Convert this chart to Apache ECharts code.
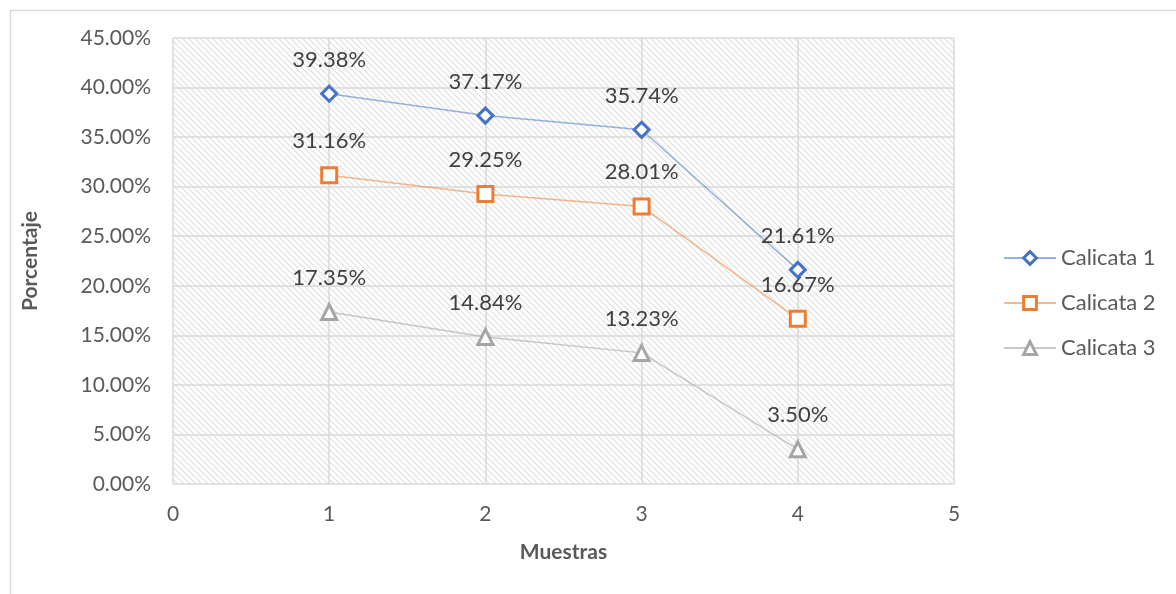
<!DOCTYPE html>
<html>
<head>
<meta charset="utf-8">
<script src="https://cdn.jsdelivr.net/npm/echarts@6/dist/echarts.min.js"></script>
<style>
html,body{margin:0;padding:0;background:#fff;}
#c{width:1176px;height:594px;}
</style>
</head>
<body>
<div id="c"></div>
<script>
const muestras = [1, 2, 3, 4];
const calicata1 = [0.3938, 0.3717, 0.3574, 0.2161];
const calicata2 = [0.3116, 0.2925, 0.2801, 0.1667];
const calicata3 = [0.1735, 0.1484, 0.1323, 0.0350];
const seriesNames = ['Calicata 1', 'Calicata 2', 'Calicata 3'];

const FONT = 'Lato, "Open Sans", sans-serif';

// hatch pattern
const tile = document.createElement('canvas');
tile.width = 6; tile.height = 6;
const tc = tile.getContext('2d');
tc.fillStyle = '#ffffff';
tc.fillRect(0, 0, 6, 6);
tc.strokeStyle = '#dedede';
tc.lineWidth = 1.1;
tc.beginPath();
tc.moveTo(-1, -1); tc.lineTo(7, 7);
tc.moveTo(-1, 5); tc.lineTo(1, 7);
tc.moveTo(5, -1); tc.lineTo(7, 1);
tc.stroke();

function pairs(vals) { return muestras.map((m, i) => [m, vals[i]]); }
function pct(v) { return (v * 100).toFixed(2) + '%'; }

const styles = [
  { color: '#4472C4', line: 'rgba(68,114,196,0.55)', symbol: 'diamond', size: 15 },
  { color: '#ED7D31', line: 'rgba(237,125,49,0.55)', symbol: 'rect', size: 15 },
  { color: '#A5A5A5', line: 'rgba(165,165,165,0.6)', symbol: 'triangle', size: 15 }
];
const data = [calicata1, calicata2, calicata3];

const chart = echarts.init(document.getElementById('c'), null, { renderer: 'canvas' });
chart.setOption({
  animation: false,
  backgroundColor: '#ffffff',
  graphic: [{
    type: 'rect', left: 8, top: 8, z: -10, silent: true,
    shape: { width: 1300, height: 700 },
    style: { fill: 'none', stroke: '#d9d9d9', lineWidth: 1.5 }
  }],
  grid: {
    left: 173, top: 38, width: 781, height: 446,
    show: true, borderWidth: 0,
    backgroundColor: { image: tile, repeat: 'repeat' }
  },
  legend: {
    orient: 'vertical', left: 998, top: 242,
    itemWidth: 52, itemHeight: 16, itemGap: 23,
    itemStyle: { borderWidth: 3 },
    textStyle: { fontFamily: FONT, fontSize: 22, lineHeight: 22, color: '#595959', padding: [0, 0, 0, 0] },
    data: seriesNames
  },
  xAxis: {
    type: 'value', min: 0, max: 5, interval: 1,
    name: 'Muestras', nameLocation: 'middle', nameGap: 58,
    nameTextStyle: { fontFamily: FONT, fontSize: 21, fontWeight: 'bold', color: '#595959' },
    axisLine: { show: false }, axisTick: { show: false },
    axisLabel: { fontFamily: FONT, fontSize: 21, color: '#595959', margin: 20 },
    splitLine: { show: true, lineStyle: { color: '#d9d9d9', width: 1.5 } }
  },
  yAxis: {
    type: 'value', min: 0, max: 0.45, interval: 0.05,
    name: 'Porcentaje', nameLocation: 'middle', nameGap: 132,
    nameTextStyle: { fontFamily: FONT, fontSize: 21, fontWeight: 'bold', color: '#595959' },
    axisLine: { show: false }, axisTick: { show: false },
    axisLabel: { fontFamily: FONT, fontSize: 21, color: '#595959', margin: 22,
      formatter: v => (v * 100).toFixed(2) + '%' },
    splitLine: { show: true, lineStyle: { color: '#d9d9d9', width: 1.5 } }
  },
  series: data.map((vals, i) => ({
    name: seriesNames[i],
    type: 'line',
    data: pairs(vals),
    symbol: styles[i].symbol,
    symbolSize: styles[i].size,
    color: styles[i].color,
    lineStyle: { color: styles[i].line, width: 1.5 },
    itemStyle: { color: '#ffffff', borderColor: styles[i].color, borderWidth: 3 },
    label: {
      show: true, position: 'top', distance: 14,
      fontFamily: FONT, fontSize: 22, color: '#404040',
      formatter: p => pct(p.value[1])
    },
    z: 3 - i
  }))
});
</script>
</body>
</html>
